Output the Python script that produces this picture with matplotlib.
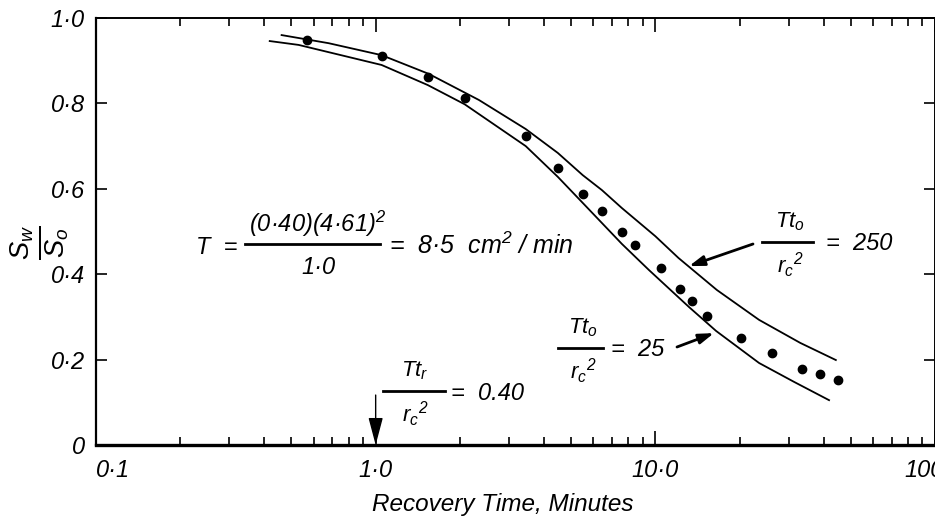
import matplotlib
matplotlib.use('Agg')
import matplotlib.pyplot as plt
from matplotlib.lines import Line2D
from matplotlib.ticker import FixedLocator, NullFormatter

plt.rcParams['font.family'] = ['Liberation Sans', 'DejaVu Sans']
plt.rcParams['font.style'] = 'italic'
plt.rcParams['mathtext.fontset'] = 'custom'
plt.rcParams['mathtext.rm'] = 'Liberation Sans'
plt.rcParams['mathtext.it'] = 'Liberation Sans:italic'

# observed recovery data (dots)
obs_time = [0.57, 1.05, 1.54, 2.08, 3.44, 4.48, 5.5, 6.44, 7.59, 8.45,
            10.5, 12.3, 13.5, 15.3, 20.2, 26.1, 33.4, 38.8, 45.0]
obs_ratio = [0.948, 0.911, 0.862, 0.813, 0.724, 0.649, 0.588, 0.548, 0.499, 0.468,
             0.414, 0.365, 0.337, 0.302, 0.251, 0.215, 0.178, 0.166, 0.152]

# type curve Tto/rc^2 = 250
t_250 = [0.461, 0.679, 1.05, 1.55, 2.34, 3.44, 4.48, 5.5, 6.44, 7.59, 10.0,
         12.1, 16.6, 23.5, 33.0, 44.2]
s_250 = [0.960, 0.941, 0.913, 0.869, 0.808, 0.740, 0.684, 0.632, 0.597, 0.555, 0.489,
         0.438, 0.363, 0.293, 0.239, 0.199]

# type curve Tto/rc^2 = 25
t_25 = [0.418, 0.530, 1.05, 1.535, 2.08, 3.44, 4.48, 5.5, 7.59, 9.48, 13.2,
        16.5, 23.5, 31.3, 41.8]
s_25 = [0.946, 0.937, 0.890, 0.843, 0.798, 0.700, 0.628, 0.567, 0.471, 0.410, 0.323,
        0.267, 0.192, 0.148, 0.105]

x_ticks = [0.1, 1.0, 10.0, 100.0]
x_labels = ['0·1', '1·0', '10·0', '100·0']
y_ticks = [0, 0.2, 0.4, 0.6, 0.8, 1.0]
y_labels = ['0', '0·2', '0·4', '0·6', '0·8', '1·0']

W, H = 935, 518
fig = plt.figure(figsize=(W / 100, H / 100), dpi=100)


def P(x, y):
    # pixel position -> figure fraction
    return (x / W, 1 - y / H)


ax = fig.add_axes([96 / W, 1 - 445 / H, (935 - 96) / W, 427 / H])
ax.set_xscale('log')
ax.set_xlim(0.1, 100)
ax.set_ylim(0, 1.0)

ax.plot(t_250, s_250, color='black', lw=1.3)
ax.plot(t_25, s_25, color='black', lw=1.3)
ax.plot(obs_time, obs_ratio, 'o', color='black', ms=6)

ax.xaxis.set_major_locator(FixedLocator(x_ticks))
ax.set_xticklabels(x_labels)
ax.xaxis.set_minor_locator(FixedLocator([m * d for d in (0.1, 1, 10) for m in range(2, 10)]))
ax.xaxis.set_minor_formatter(NullFormatter())
ax.set_yticks(y_ticks)
ax.set_yticklabels(y_labels)

ax.tick_params(axis='x', which='both', direction='in', top=True, bottom=True,
               labelsize=17, pad=10, width=1.2)
ax.tick_params(axis='x', which='major', length=10)
ax.tick_params(axis='x', which='minor', length=6)
ax.tick_params(axis='y', which='major', direction='in', left=True, right=True,
               length=8, width=1.2, labelsize=17, pad=8)
ax.get_xticklabels()[0].set_horizontalalignment('left')

ax.spines['bottom'].set_linewidth(2.4)
ax.spines['left'].set_linewidth(1.6)
ax.spines['top'].set_linewidth(1.4)
ax.spines['right'].set_linewidth(1.4)

# axis titles
fig.text(*P(40, 243), r'$\frac{S_\mathrm{w}}{S_\mathrm{o}}$', rotation=90,
         ha='center', va='center', fontsize=28)
fig.text(*P(503, 505), 'Recovery Time, Minutes', ha='center', va='center', fontsize=17.5)


def frac(xc, y, num, den, x0, x1, fs=16):
    fig.text(*P(xc, y - 20), num, ha='center', va='center', fontsize=fs)
    fig.text(*P(xc, y + 23), den, ha='center', va='center', fontsize=fs)
    fig.add_artist(Line2D([x0 / W, x1 / W], [1 - y / H, 1 - y / H], color='black', lw=2))


# transmissivity equation
fig.text(*P(196, 247), 'T  =', ha='left', va='center', fontsize=17)
frac(318, 244, r'(0·40)(4·61)$^\mathrm{2}$', '1·0', 245, 380, fs=17)
fig.text(*P(389, 246), r'=  8·5  cm$^\mathrm{2}$ / min', ha='left', va='center', fontsize=18)

# Tto/rc2 = 250
frac(790, 242, r'$Tt_\mathrm{o}$', r'$r_\mathrm{c}{}^\mathrm{2}$', 762, 813)
fig.text(*P(826, 243), '=  250', ha='left', va='center', fontsize=17)
ax.annotate('', xy=(13.2, 0.419), xycoords='data', xytext=P(753, 244),
            textcoords='figure fraction',
            arrowprops=dict(arrowstyle='-|>,head_length=0.9,head_width=0.3',
                            lw=2, color='black', shrinkA=0, shrinkB=0))

# Tto/rc2 = 25
frac(583, 348, r'$Tt_\mathrm{o}$', r'$r_\mathrm{c}{}^\mathrm{2}$', 558, 603)
fig.text(*P(611, 350), '=  25', ha='left', va='center', fontsize=17)
ax.annotate('', xy=(16.2, 0.262), xycoords='data', xytext=P(677, 347),
            textcoords='figure fraction',
            arrowprops=dict(arrowstyle='-|>,head_length=0.9,head_width=0.3',
                            lw=2, color='black', shrinkA=0, shrinkB=0))

# Ttr/rc2 = 0.40
frac(415, 391, r'$Tt_\mathrm{r}$', r'$r_\mathrm{c}{}^\mathrm{2}$', 383, 445)
fig.text(*P(451, 393), '=  0.40', ha='left', va='center', fontsize=17)
ax.annotate('', xy=(1.0, 0.0), xycoords='data', xytext=(1.0, 0.117),
            arrowprops=dict(arrowstyle='-|>,head_length=1.7,head_width=0.45',
                            lw=1, color='black', shrinkA=0, shrinkB=0))

fig.savefig('out.png', dpi=100)
